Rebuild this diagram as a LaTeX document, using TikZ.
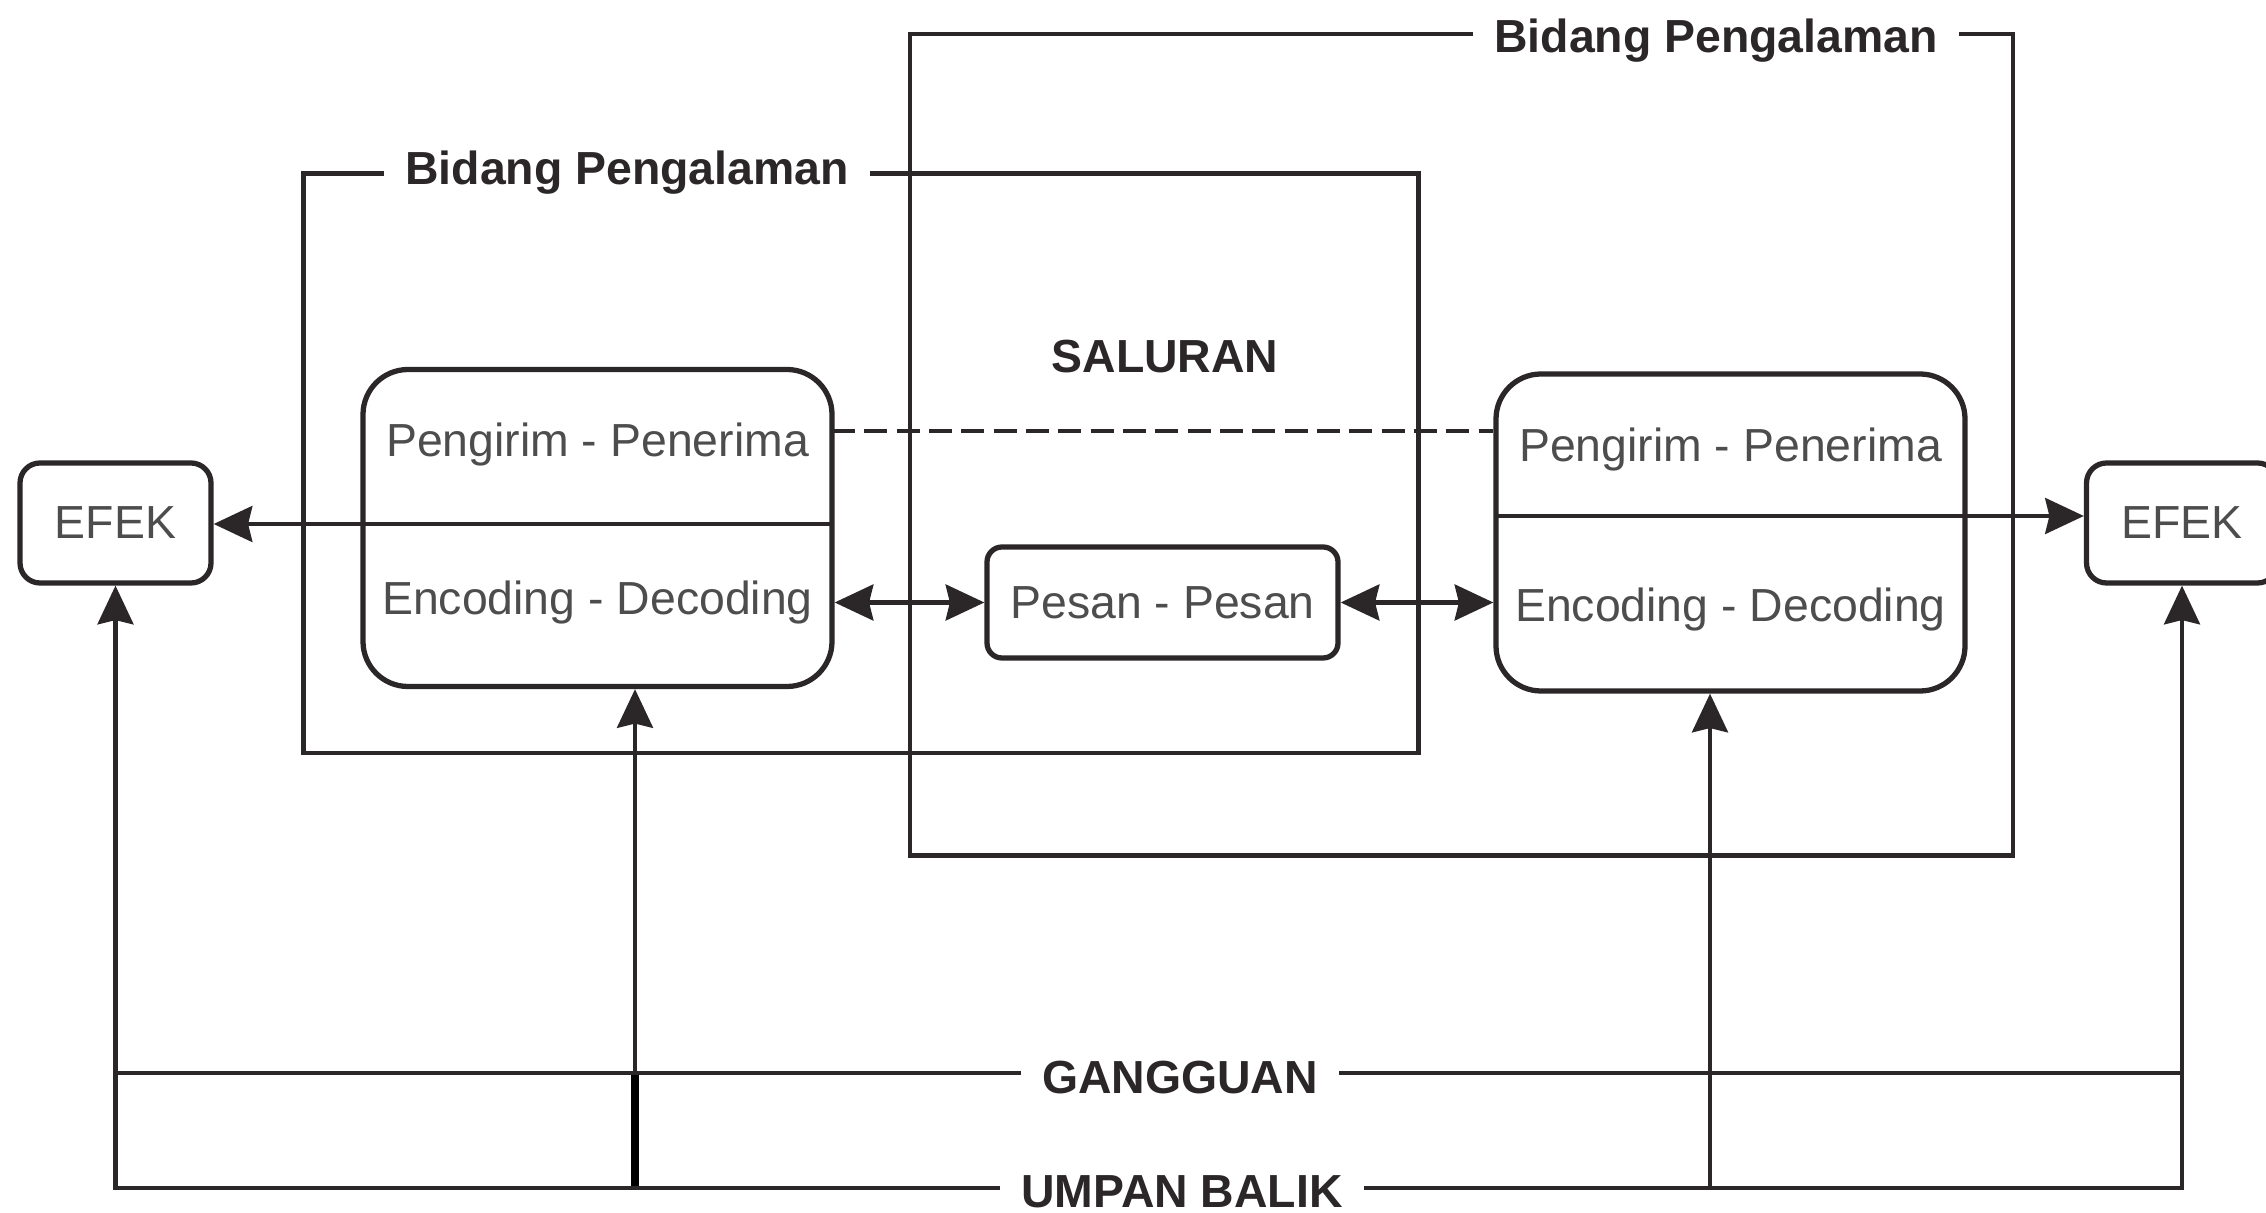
\documentclass[tikz,border=0pt]{standalone}
\usepackage{fontspec}
\setmainfont{Liberation Sans}
\usetikzlibrary{arrows.meta}

\definecolor{ink}{HTML}{2B2728}
\definecolor{softink}{HTML}{4D4D4D}

\tikzset{larrow/.style = {-{Stealth[length=11pt,width=10.2pt,inset=1.2pt]}}}
\tikzset{lrarrow/.style = {{Stealth[length=11pt,width=10.2pt,inset=1.2pt]}-{Stealth[length=11pt,width=10.2pt,inset=1.2pt]}}}
\tikzset{
  field/.style = {draw=ink, line width=1.2pt},
  fieldname/.style = {fill=white, inner xsep=6pt, inner ysep=2pt, anchor=base, text=ink,
    font=\fontsize{13.2}{16}\selectfont\bfseries},
  actor/.style = {draw=ink, line width=1.5pt, rounded corners=.45cm,
    minimum width=4.69cm, minimum height=3.17cm},
  msgbox/.style = {draw=ink, line width=1.5pt, rounded corners=.15cm,
    minimum width=3.51cm, minimum height=1.11cm, text=softink, font=\fontsize{13.2}{16}\selectfont},
  effectbox/.style = {draw=ink, line width=1.5pt, rounded corners=.2cm,
    minimum width=1.91cm, minimum height=1.2cm, text=softink, font=\fontsize{13.2}{16}\selectfont},
  roletext/.style = {anchor=base, text=softink, font=\fontsize{13.2}{16}\selectfont},
}

\begin{document}
\begin{tikzpicture}[line width=1.3pt, draw=ink]
    \useasboundingbox (0,0) rectangle (22.66,-12.13);

    % bidang pengalaman
    \draw[field] (3.035,-1.735) rectangle (14.185,-7.53);
    \draw[field] (9.10,-0.34) rectangle (20.13,-8.555);
    \node[fieldname] (fieldL) at (6.27,-1.85) {Bidang Pengalaman};
    \node[fieldname] (fieldR) at (17.16,-0.53) {Bidang Pengalaman};
    \node[fieldname, fill=none] (saluran) at (11.65,-3.73) {SALURAN};

    \node[actor] (lbox) at (5.975,-5.28) {};
    \node[actor] (rbox) at (17.305,-5.325) {};
    \node[roletext] (lsend) at (5.975,-4.57) {Pengirim - Penerima};
    \node[roletext] (lcode) at (5.975,-6.15) {Encoding - Decoding};
    \node[roletext] (rsend) at (17.305,-4.62) {Pengirim - Penerima};
    \node[roletext] (rcode) at (17.305,-6.22) {Encoding - Decoding};

    \node[msgbox] (pesan) at (11.625,-6.025) {Pesan - Pesan};
    \node[effectbox] (efekL) at (1.155,-5.23) {EFEK};
    \node[effectbox] (efekR) at (21.82,-5.23) {EFEK};

    \coordinate (lsplit) at (8.32,-5.24);
    \coordinate (rsplit) at (14.96,-5.16);
    \coordinate (dashL) at (8.32,-4.31);

    \draw[dash pattern=on 6.5pt off 2.7pt] (dashL) -- (dashL -| rbox.west);
    \draw[larrow] (lsplit) -- (lsplit -| efekL.east);
    \draw[larrow] (rsplit) -- (rsplit -| efekR.west);
    \draw[lrarrow] (pesan.west -| lbox.east) -- (pesan.west);
    \draw[lrarrow] (pesan.east) -- (pesan.east -| rbox.west);

    % gangguan dan umpan balik
    \coordinate (gL) at (1.155,-10.73);
    \coordinate (gR) at (21.82,-10.73);
    \coordinate (uL) at (1.155,-11.88);
    \coordinate (uR) at (21.82,-11.88);
    \coordinate (lup) at (6.35,-11.88);
    \coordinate (rup) at (17.10,-11.88);

    \draw[larrow] (uL) -- (efekL.south);
    \draw[larrow] (uR) -- (efekR.south);
    \draw[larrow] (lup) -- (lup |- lbox.south);
    \draw[larrow] (rup) -- (rup |- rbox.south);
    \draw[line width=2.2pt, black] (lup) -- (lup |- gL);
    \draw[line cap=rect] (gL) -- (gR);
    \draw[line cap=rect] (uL) -- (uR);
    \node[fieldname] (gangguan) at (11.80,-10.93) {GANGGUAN};
    \node[fieldname] (umpan) at (11.82,-12.07) {UMPAN BALIK};
\end{tikzpicture}
\end{document}
